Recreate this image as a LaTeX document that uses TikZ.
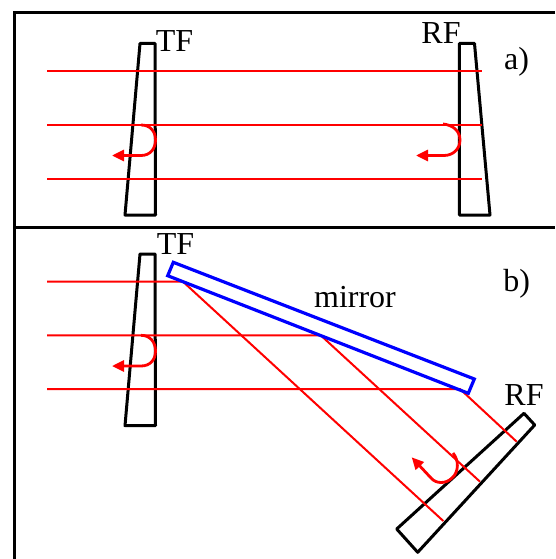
\documentclass[tikz,border=0pt]{standalone}
\usepackage{fontspec}
\setmainfont{Liberation Serif}
\usetikzlibrary{arrows.meta}
\tikzset{
  frameline/.style={draw=black,line width=3pt},
  wedge/.style={draw=black,line width=3pt,line join=round},
  mirrorbox/.style={draw=blue,line width=3.2pt,line join=miter},
  ray/.style={draw=red,line width=2pt},
  turn/.style={draw=red,line width=2.8pt,-{Triangle[length=12pt,width=11pt]}},
  lab/.style={anchor=base,inner sep=0pt,font=\fontsize{32}{34}\selectfont}
}
\begin{document}
\begin{tikzpicture}[x=1pt,y=-1pt]
\useasboundingbox (0,0) rectangle (555,559);
\fill[white] (0,0) rectangle (555,559);
% frame
\coordinate (fa) at (555,13); \coordinate (fb) at (14.5,13); \coordinate (fc) at (14.5,559);
\coordinate (fd) at (14.5,227.5); \coordinate (fe) at (555,227.5);
\path[frameline] (fa) -- (fb) -- (fc);
\path[frameline] (fd) -- (fe);
% panel a wedges
\path[wedge] (140,43.5) -- (155,43.5) -- (155.5,215) -- (125,215) -- cycle;
\path[wedge] (459.3,43.5) -- (474.5,43.5) -- (490,215) -- (459.3,215) -- cycle;
% panel a rays
\foreach \yy in {71,125,178.5} \path[ray] (47,\yy) -- (482,\yy);
\path[turn] (141,125) .. controls (150,125) and (155.5,131) .. (155.5,140) .. controls (155.5,149) and (150,155.5) .. (141,155.5) -- (112,155.5);
\path[turn] (443,124) .. controls (453,125) and (460,131) .. (460,140) .. controls (460,149) and (453,155.5) .. (444,155.5) -- (416,155.5);
% panel b wedges
\path[wedge] (140,254) -- (155,254) -- (155.5,425.7) -- (125,425.7) -- cycle;
\path[wedge] (524,413.3) -- (534.7,425) -- (417.7,552.3) -- (396.7,529) -- cycle;
% panel b rays
\path[ray] (47,281.7) -- (183,281.7) -- (443.3,521);
\path[ray] (47,335.3) -- (320.7,335.3) -- (480,481.7);
\path[ray] (47,389) -- (460,389) -- (516.7,441.7);
\path[turn] (141,335.3) .. controls (150,335.3) and (155.5,342) .. (155.5,351) .. controls (155.5,360) and (150,366) .. (141,366) -- (112,366);
\path[turn] (453,453) .. controls (459,460) and (459,472) .. (452,478) .. controls (446,484) and (436,484) .. (431,478) -- (411.7,457.3);
% mirror
\path[mirrorbox] (173.3,262.3) -- (474.3,379) -- (468.3,393.3) -- (167.7,275.7) -- cycle;
% labels
\node[lab] (tfa) at (174.5,51.7) {TF};
\node[lab] (rfa) at (441,43.3) {RF};
\node[lab] (la) at (516.5,69.3) {a)};
\node[lab] (tfb) at (175.5,254.3) {TF};
\node[lab] (lb) at (516.7,291.7) {b)};
\node[lab] (mir) at (355,307.7) {mirror};
\node[lab] (rfb) at (524,405) {RF};
\end{tikzpicture}
\end{document}
